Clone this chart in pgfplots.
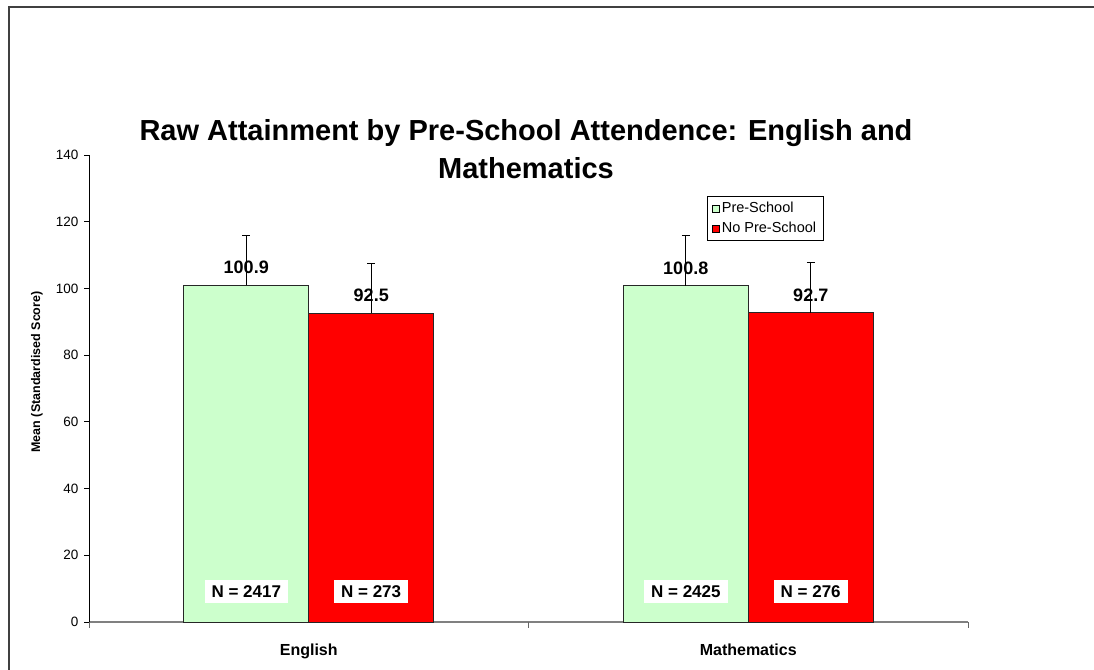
\documentclass[border=0pt]{standalone}
\usepackage{fontspec}
\setmainfont{Liberation Sans}
\usepackage{pgfplots}
\pgfplotsset{compat=1.18}
\definecolor{paleg}{RGB}{204,255,204}
\definecolor{xred}{RGB}{255,0,0}
\newcommand{\fs}[1]{\fontsize{#1}{#1}\selectfont}

\begin{document}
\begin{tikzpicture}
\useasboundingbox (0pt,0pt) rectangle (1094pt,669pt);
\clip (0pt,0pt) rectangle (1094pt,669pt);
% outer chart frame (cut by the page at right and bottom)
\draw[line width=1.3pt, black!75] (9pt,-20pt) -- (9pt,662pt) -- (1120pt,662pt);
\node[font=\bfseries\fs{29}, align=center, inner sep=0pt] at (526pt,520pt)
  {Raw Attainment by Pre-School Attendence: English and\\[9pt]Mathematics};
\node[rotate=90, font=\bfseries\fs{12.5}] at (37pt,297pt) {Mean (Standardised Score)};

\begin{axis}[
  at={(89pt,47pt)}, anchor=south west,
  scale only axis, width=879pt, height=467pt,
  xmin=0, xmax=2, ymin=0, ymax=140,
  ybar=0pt, bar width=125pt,
  axis x line*=bottom, axis y line*=left,
  x axis line style={line width=1.6pt, black!50},
  y axis line style={line width=0.8pt, black},
  tick align=outside, major tick length=5pt,
  ytick={0,20,...,140},
  y tick style={black, line width=0.8pt},
  yticklabel style={font=\fs{13.5}, xshift=-2pt},
  /pgf/number format/assume math mode=true,
  xtick={0.5,1.5}, xticklabels={English, Mathematics},
  major x tick style={draw=none},
  xticklabel style={font=\bfseries\fs{16}, yshift=-13pt},
  extra x ticks={0,1,2}, extra x tick labels={},
  extra x tick style={major x tick style={draw=black!60, line width=0.8pt}, major tick length=6pt},
  nodes near coords={\pgfmathprintnumber[fixed,precision=1,fixed zerofill]{\pgfplotspointmeta}},
  every node near coord/.append style={font=\bfseries\fs{18}, anchor=south, inner sep=1pt, yshift=10pt, black},
  legend image code/.code={\draw[#1, draw=black, line width=0.6pt] (0pt,-3.5pt) rectangle (7pt,3.5pt);},
  legend style={at={(rel axis cs:0.703,0.912)}, anchor=north west, draw=black, line width=0.6pt,
    font=\fs{14.5}, inner xsep=5pt, inner ysep=4pt, row sep=4pt,
    /tikz/every even column/.append style={column sep=2pt}},
  legend cell align=left,
  clip=false,
]
\addplot[fill=paleg, draw=black!85, line width=0.9pt,
  error bars/.cd, y dir=plus, y explicit,
  error bar style={black, line width=0.8pt},
  error mark options={rotate=90, mark size=4pt, black, line width=0.8pt}]
  coordinates {(0.5,100.9) +- (0,15) (1.5,100.8) +- (0,15)};
\addplot[fill=xred, draw=black!85, line width=0.9pt,
  error bars/.cd, y dir=plus, y explicit,
  error bar style={black, line width=0.8pt},
  error mark options={rotate=90, mark size=4pt, black, line width=0.8pt}]
  coordinates {(0.5,92.5) +- (0,15) (1.5,92.7) +- (0,15)};
\legend{Pre-School, No Pre-School}
\begin{scope}[every node/.style={fill=white, font=\bfseries\fs{17}, inner xsep=7pt, minimum height=23pt}]
\node at (axis cs:0.358,9) {N = 2417};
\node at (axis cs:0.642,9) {N = 273};
\node at (axis cs:1.358,9) {N = 2425};
\node at (axis cs:1.642,9) {N = 276};
\end{scope}
\end{axis}
\end{tikzpicture}
\end{document}
